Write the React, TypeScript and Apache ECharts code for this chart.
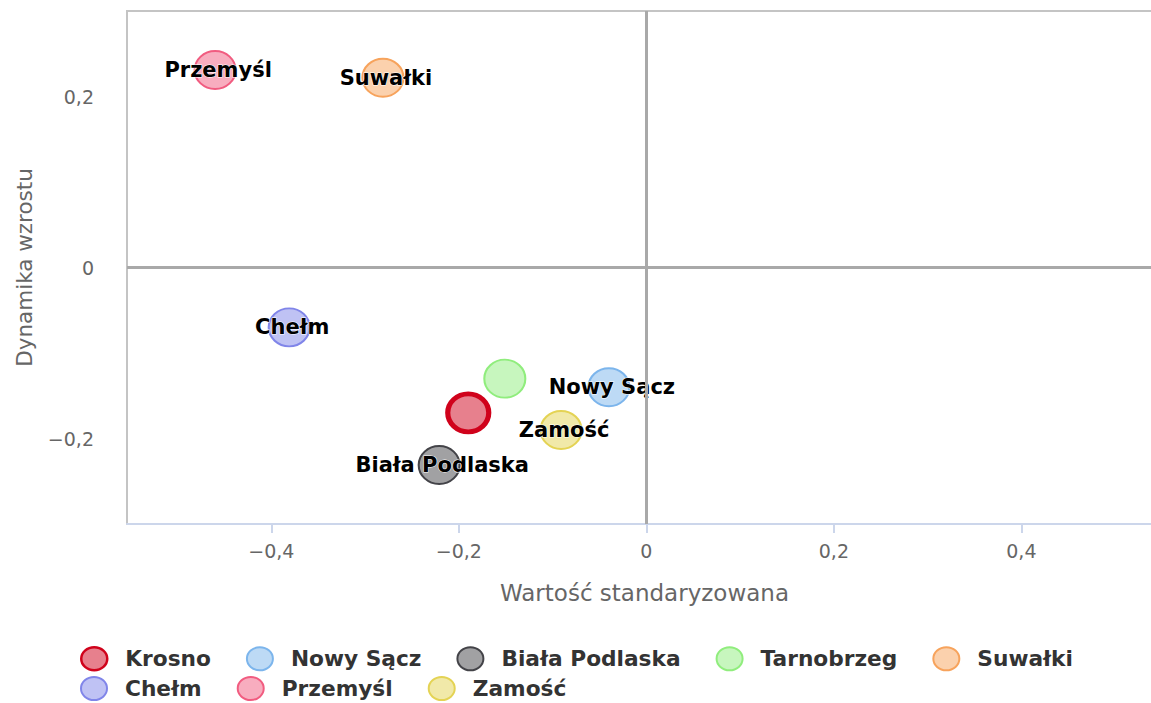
import React, { useEffect, useRef } from "react";
import * as echarts from "echarts";

const cities = ["Krosno", "Nowy Sącz", "Biała Podlaska", "Tarnobrzeg", "Suwałki", "Chełm", "Przemyśl", "Zamość"];
const xValues = [-0.19, -0.04, -0.221, -0.151, -0.281, -0.381, -0.46, -0.091];
const yValues = [-0.17, -0.14, -0.231, -0.13, 0.222, -0.07, 0.231, -0.19];
const showLabel = [false, true, true, false, true, true, true, true];
const colors = ["#d0021b", "#7cb5ec", "#434348", "#90ed7d", "#f7a35c", "#8085e9", "#f15c80", "#e4d354"];
const legendRow1 = cities.slice(0, 5);
const legendRow2 = cities.slice(5);
const xTicks = [-0.4, -0.2, 0, 0.2, 0.4];
const yTicks = [-0.2, 0, 0.2];

const FONT = "DejaVu Sans";
const ELLIPSE = "path://M0,50A50,50,0,1,1,100,50A50,50,0,1,1,0,50Z";

function rgba(hex: string, a: number) {
  const n = parseInt(hex.slice(1), 16);
  return `rgba(${(n >> 16) & 255},${(n >> 8) & 255},${n & 255},${a})`;
}

function fmt(v: number) {
  if (Math.abs(v) < 1e-9) return "0";
  return v.toFixed(1).replace(".", ",").replace("-", "\u2212");
}

export default function App() {
  const ref = useRef<HTMLDivElement>(null);
  useEffect(() => {
    if (!ref.current) return;
    const chart = echarts.init(ref.current, undefined, { renderer: "svg" });
    const series: any[] = cities.map((name, i) => ({
      type: "scatter",
      name,
      symbol: ELLIPSE,
      symbolKeepAspect: false,
      symbolSize: [41, 38],
      itemStyle: {
        color: rgba(colors[i], 0.5),
        borderColor: colors[i],
        borderWidth: i === 0 ? 5 : 2,
        opacity: 1,
      },
      label: {
        show: showLabel[i],
        position: "inside",
        offset: [3, 0],
        formatter: name,
        fontFamily: FONT,
        fontSize: 21,
        fontWeight: "bold",
        color: "#000",
        textBorderColor: "#fff",
        textBorderWidth: 1,
      },
      data: [[xValues[i], yValues[i]]],
      z: 3,
    }));
    series.push({
      type: "scatter",
      name: "__lines",
      data: [],
      silent: true,
      z: 1,
      markLine: {
        silent: true,
        symbol: ["none", "none"],
        label: { show: false },
        lineStyle: { color: "#a9a9a9", type: "solid", width: 3 },
        data: [{ xAxis: 0 }, { yAxis: 0 }],
      },
    });
    const legendCommon = {
      orient: "horizontal",
      left: 75,
      itemGap: 35,
      itemWidth: 26,
      itemHeight: 23,
      icon: ELLIPSE,
      symbolKeepAspect: false,
      textStyle: {
        fontFamily: FONT,
        fontSize: 21.7,
        fontWeight: "bold",
        color: "#333",
        padding: [0, 0, 0, 13],
      },
    };
    const legendData = (names: string[]) =>
      names.map((n) => {
        const i = cities.indexOf(n);
        return { name: n, itemStyle: { color: rgba(colors[i], 0.5), borderColor: colors[i], borderWidth: i === 0 ? 2.5 : 2 } };
      });
    chart.setOption({
      animation: false,
      backgroundColor: "#fff",
      grid: { left: 127, right: 0, top: 11, bottom: 179, containLabel: false },
      graphic: [
        {
          type: "line",
          silent: true,
          shape: { x1: 126, y1: 11, x2: 1162, y2: 11 },
          style: { stroke: "#c4c4c4", lineWidth: 2 },
        },
      ],
      xAxis: {
        type: "value",
        min: -0.554,
        max: 0.55,
        name: "Wartość standaryzowana",
        nameLocation: "middle",
        nameGap: 57,
        nameTextStyle: { fontFamily: FONT, fontSize: 23, color: "#666" },
        axisLine: { show: true, onZero: false, lineStyle: { color: "#ccd6eb", width: 2 } },
        axisTick: { show: true, length: 9, customValues: xTicks, lineStyle: { color: "#ccd6eb", width: 2 } },
        axisLabel: { customValues: xTicks, formatter: fmt, margin: 17, fontFamily: FONT, fontSize: 19, color: "#666" },
        splitLine: { show: false },
      },
      yAxis: {
        type: "value",
        min: -0.3,
        max: 0.3,
        name: "Dynamika wzrostu",
        nameLocation: "middle",
        nameRotate: 90,
        nameGap: 92,
        nameTextStyle: { fontFamily: FONT, fontSize: 21.5, color: "#666" },
        axisLine: { show: true, onZero: false, lineStyle: { color: "#c4c4c4", width: 2 } },
        axisTick: { show: false },
        axisLabel: { customValues: yTicks, formatter: fmt, margin: 33, fontFamily: FONT, fontSize: 19, color: "#666" },
        splitLine: { show: false },
      },
      legend: [
        { ...legendCommon, top: 641, data: legendData(legendRow1) },
        { ...legendCommon, top: 671, data: legendData(legendRow2) },
      ],
      series,
    });
    return () => chart.dispose();
  }, []);
  return (
    <div style={{ position: "absolute", left: 0, top: 0, width: 1151, height: 703, overflow: "hidden" }}>
      <div ref={ref} style={{ width: 1162, height: 703 }} />
    </div>
  );
}
